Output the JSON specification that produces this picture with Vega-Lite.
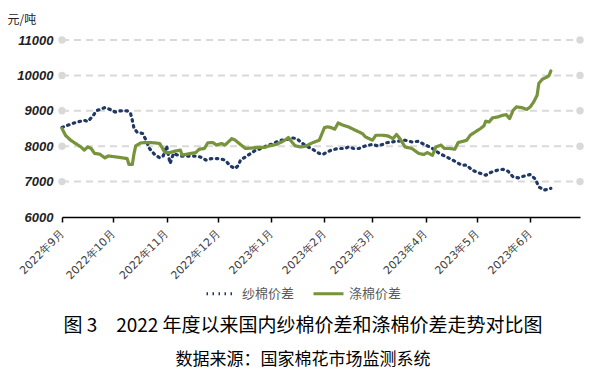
{
  "$schema": "https://vega.github.io/schema/vega-lite/v6.json",
  "width": 518,
  "height": 177,
  "autosize": {"type": "none"},
  "padding": {"left": 62, "top": 40, "right": 11, "bottom": 156},
  "background": "white",
  "config": {
    "view": {"stroke": null},
    "font": "Noto Sans CJK SC",
    "axisY": {
      "labelOverlap": false,
      "grid": false,
      "domain": false,
      "ticks": false,
      "labelFont": "Liberation Sans",
      "labelFontStyle": "italic",
      "labelFontWeight": "bold",
      "labelFontSize": 13,
      "labelColor": "#222222",
      "labelPadding": 9,
      "titleAngle": 0,
      "titleX": -55,
      "titleY": -21,
      "titleAlign": "left",
      "titleBaseline": "middle",
      "titleFont": "Noto Sans CJK SC",
      "titleFontSize": 12,
      "titleFontWeight": "normal",
      "titleColor": "#222222"
    },
    "axisX": {
      "labelAngle": -45,
      "labelAlign": "right",
      "labelBaseline": "middle",
      "labelFont": "DejaVu Sans",
      "labelFontSize": 11,
      "labelColor": "#404040",
      "labelPadding": 10,
      "labelDx": 5,
      "labelFlush": false,
      "labelOverlap": false,
      "labelBound": false,
      "domainColor": "#000000",
      "domainWidth": 1.5,
      "tickColor": "#000000",
      "tickWidth": 1.5,
      "tickSize": 5,
      "grid": false
    },
    "legend": {
      "orient": "none",
      "legendX": 143,
      "legendY": 237,
      "direction": "horizontal",
      "title": null,
      "symbolType": "stroke",
      "symbolSize": 900,
      "symbolStrokeWidth": 3,
      "labelFont": "Noto Sans CJK SC",
      "labelFontSize": 13,
      "labelColor": "#595959",
      "labelOffset": 4,
      "columnPadding": 12
    }
  },
  "datasets": {
    "series": [
      {"date": "2022-09-01", "series": "纱棉价差", "value": 8530},
      {"date": "2022-09-06", "series": "纱棉价差", "value": 8620},
      {"date": "2022-09-09", "series": "纱棉价差", "value": 8670},
      {"date": "2022-09-14", "series": "纱棉价差", "value": 8730},
      {"date": "2022-09-16", "series": "纱棉价差", "value": 8700},
      {"date": "2022-09-19", "series": "纱棉价差", "value": 8850},
      {"date": "2022-09-21", "series": "纱棉价差", "value": 9000},
      {"date": "2022-09-26", "series": "纱棉价差", "value": 9090},
      {"date": "2022-09-29", "series": "纱棉价差", "value": 9040},
      {"date": "2022-10-02", "series": "纱棉价差", "value": 8965},
      {"date": "2022-10-05", "series": "纱棉价差", "value": 9000},
      {"date": "2022-10-09", "series": "纱棉价差", "value": 9000},
      {"date": "2022-10-11", "series": "纱棉价差", "value": 8920},
      {"date": "2022-10-12", "series": "纱棉价差", "value": 8730},
      {"date": "2022-10-13", "series": "纱棉价差", "value": 8500},
      {"date": "2022-10-15", "series": "纱棉价差", "value": 8385},
      {"date": "2022-10-18", "series": "纱棉价差", "value": 8360},
      {"date": "2022-10-20", "series": "纱棉价差", "value": 8170},
      {"date": "2022-10-22", "series": "纱棉价差", "value": 7935},
      {"date": "2022-10-25", "series": "纱棉价差", "value": 7765},
      {"date": "2022-10-28", "series": "纱棉价差", "value": 7670},
      {"date": "2022-10-30", "series": "纱棉价差", "value": 7725},
      {"date": "2022-11-01", "series": "纱棉价差", "value": 8010},
      {"date": "2022-11-03", "series": "纱棉价差", "value": 7510},
      {"date": "2022-11-05", "series": "纱棉价差", "value": 7795},
      {"date": "2022-11-09", "series": "纱棉价差", "value": 7720},
      {"date": "2022-11-15", "series": "纱棉价差", "value": 7720},
      {"date": "2022-11-19", "series": "纱棉价差", "value": 7720},
      {"date": "2022-11-22", "series": "纱棉价差", "value": 7670},
      {"date": "2022-11-24", "series": "纱棉价差", "value": 7605},
      {"date": "2022-11-27", "series": "纱棉价差", "value": 7650},
      {"date": "2022-12-01", "series": "纱棉价差", "value": 7650},
      {"date": "2022-12-04", "series": "纱棉价差", "value": 7625},
      {"date": "2022-12-06", "series": "纱棉价差", "value": 7560},
      {"date": "2022-12-08", "series": "纱棉价差", "value": 7445},
      {"date": "2022-12-11", "series": "纱棉价差", "value": 7370},
      {"date": "2022-12-13", "series": "纱棉价差", "value": 7465},
      {"date": "2022-12-14", "series": "纱棉价差", "value": 7605},
      {"date": "2022-12-17", "series": "纱棉价差", "value": 7700},
      {"date": "2022-12-20", "series": "纱棉价差", "value": 7795},
      {"date": "2022-12-23", "series": "纱棉价差", "value": 7890},
      {"date": "2022-12-27", "series": "纱棉价差", "value": 7950},
      {"date": "2022-12-30", "series": "纱棉价差", "value": 8030},
      {"date": "2023-01-01", "series": "纱棉价差", "value": 8050},
      {"date": "2023-01-04", "series": "纱棉价差", "value": 8120},
      {"date": "2023-01-07", "series": "纱棉价差", "value": 8170},
      {"date": "2023-01-10", "series": "纱棉价差", "value": 8190},
      {"date": "2023-01-13", "series": "纱棉价差", "value": 8235},
      {"date": "2023-01-16", "series": "纱棉价差", "value": 8215},
      {"date": "2023-01-18", "series": "纱棉价差", "value": 8120},
      {"date": "2023-01-21", "series": "纱棉价差", "value": 8020},
      {"date": "2023-01-25", "series": "纱棉价差", "value": 7915},
      {"date": "2023-01-29", "series": "纱棉价差", "value": 7795},
      {"date": "2023-01-31", "series": "纱棉价差", "value": 7765},
      {"date": "2023-02-02", "series": "纱棉价差", "value": 7820},
      {"date": "2023-02-05", "series": "纱棉价差", "value": 7890},
      {"date": "2023-02-09", "series": "纱棉价差", "value": 7935},
      {"date": "2023-02-13", "series": "纱棉价差", "value": 7935},
      {"date": "2023-02-15", "series": "纱棉价差", "value": 7980},
      {"date": "2023-02-18", "series": "纱棉价差", "value": 7935},
      {"date": "2023-02-21", "series": "纱棉价差", "value": 7935},
      {"date": "2023-02-25", "series": "纱棉价差", "value": 8010},
      {"date": "2023-03-01", "series": "纱棉价差", "value": 8050},
      {"date": "2023-03-04", "series": "纱棉价差", "value": 8010},
      {"date": "2023-03-07", "series": "纱棉价差", "value": 8050},
      {"date": "2023-03-09", "series": "纱棉价差", "value": 8095},
      {"date": "2023-03-12", "series": "纱棉价差", "value": 8120},
      {"date": "2023-03-16", "series": "纱棉价差", "value": 8140},
      {"date": "2023-03-20", "series": "纱棉价差", "value": 8170},
      {"date": "2023-03-24", "series": "纱棉价差", "value": 8120},
      {"date": "2023-03-28", "series": "纱棉价差", "value": 8140},
      {"date": "2023-03-31", "series": "纱棉价差", "value": 8050},
      {"date": "2023-04-02", "series": "纱棉价差", "value": 8010},
      {"date": "2023-04-05", "series": "纱棉价差", "value": 7935},
      {"date": "2023-04-09", "series": "纱棉价差", "value": 7795},
      {"date": "2023-04-13", "series": "纱棉价差", "value": 7700},
      {"date": "2023-04-18", "series": "纱棉价差", "value": 7575},
      {"date": "2023-04-22", "series": "纱棉价差", "value": 7465},
      {"date": "2023-04-25", "series": "纱棉价差", "value": 7465},
      {"date": "2023-04-28", "series": "纱棉价差", "value": 7325},
      {"date": "2023-05-03", "series": "纱棉价差", "value": 7230},
      {"date": "2023-05-06", "series": "纱棉价差", "value": 7180},
      {"date": "2023-05-09", "series": "纱棉价差", "value": 7260},
      {"date": "2023-05-13", "series": "纱棉价差", "value": 7325},
      {"date": "2023-05-16", "series": "纱棉价差", "value": 7345},
      {"date": "2023-05-19", "series": "纱棉价差", "value": 7295},
      {"date": "2023-05-22", "series": "纱棉价差", "value": 7135},
      {"date": "2023-05-25", "series": "纱棉价差", "value": 7105},
      {"date": "2023-05-29", "series": "纱棉价差", "value": 7165},
      {"date": "2023-06-01", "series": "纱棉价差", "value": 7200},
      {"date": "2023-06-04", "series": "纱棉价差", "value": 7070},
      {"date": "2023-06-06", "series": "纱棉价差", "value": 6850},
      {"date": "2023-06-09", "series": "纱棉价差", "value": 6760},
      {"date": "2023-06-12", "series": "纱棉价差", "value": 6790},
      {"date": "2023-06-13", "series": "纱棉价差", "value": 6810},

      {"date": "2022-09-01", "series": "涤棉价差", "value": 8500},
      {"date": "2022-09-03", "series": "涤棉价差", "value": 8310},
      {"date": "2022-09-06", "series": "涤棉价差", "value": 8170},
      {"date": "2022-09-09", "series": "涤棉价差", "value": 8075},
      {"date": "2022-09-12", "series": "涤棉价差", "value": 7980},
      {"date": "2022-09-14", "series": "涤棉价差", "value": 7890},
      {"date": "2022-09-16", "series": "涤棉价差", "value": 7980},
      {"date": "2022-09-18", "series": "涤棉价差", "value": 7935},
      {"date": "2022-09-20", "series": "涤棉价差", "value": 7795},
      {"date": "2022-09-23", "series": "涤棉价差", "value": 7775},
      {"date": "2022-09-26", "series": "涤棉价差", "value": 7670},
      {"date": "2022-09-28", "series": "涤棉价差", "value": 7725},
      {"date": "2022-10-02", "series": "涤棉价差", "value": 7700},
      {"date": "2022-10-05", "series": "涤棉价差", "value": 7680},
      {"date": "2022-10-09", "series": "涤棉价差", "value": 7650},
      {"date": "2022-10-10", "series": "涤棉价差", "value": 7485},
      {"date": "2022-10-12", "series": "涤棉价差", "value": 7485},
      {"date": "2022-10-13", "series": "涤棉价差", "value": 7795},
      {"date": "2022-10-14", "series": "涤棉价差", "value": 8010},
      {"date": "2022-10-17", "series": "涤棉价差", "value": 8095},
      {"date": "2022-10-21", "series": "涤棉价差", "value": 8105},
      {"date": "2022-10-25", "series": "涤棉价差", "value": 8095},
      {"date": "2022-10-28", "series": "涤棉价差", "value": 8075},
      {"date": "2022-10-31", "series": "涤棉价差", "value": 7820},
      {"date": "2022-11-03", "series": "涤棉价差", "value": 7820},
      {"date": "2022-11-06", "series": "涤棉价差", "value": 7860},
      {"date": "2022-11-09", "series": "涤棉价差", "value": 7890},
      {"date": "2022-11-10", "series": "涤棉价差", "value": 7750},
      {"date": "2022-11-12", "series": "涤棉价差", "value": 7765},
      {"date": "2022-11-15", "series": "涤棉价差", "value": 7795},
      {"date": "2022-11-18", "series": "涤棉价差", "value": 7820},
      {"date": "2022-11-20", "series": "涤棉价差", "value": 7915},
      {"date": "2022-11-23", "series": "涤棉价差", "value": 7935},
      {"date": "2022-11-25", "series": "涤棉价差", "value": 8095},
      {"date": "2022-11-28", "series": "涤棉价差", "value": 8105},
      {"date": "2022-11-30", "series": "涤棉价差", "value": 8030},
      {"date": "2022-12-03", "series": "涤棉价差", "value": 8075},
      {"date": "2022-12-05", "series": "涤棉价差", "value": 8030},
      {"date": "2022-12-09", "series": "涤棉价差", "value": 8215},
      {"date": "2022-12-11", "series": "涤棉价差", "value": 8170},
      {"date": "2022-12-14", "series": "涤棉价差", "value": 8050},
      {"date": "2022-12-17", "series": "涤棉价差", "value": 7935},
      {"date": "2022-12-21", "series": "涤棉价差", "value": 7950},
      {"date": "2022-12-24", "series": "涤棉价差", "value": 7965},
      {"date": "2022-12-28", "series": "涤棉价差", "value": 7965},
      {"date": "2022-12-31", "series": "涤棉价差", "value": 8010},
      {"date": "2023-01-04", "series": "涤棉价差", "value": 8050},
      {"date": "2023-01-07", "series": "涤棉价差", "value": 8120},
      {"date": "2023-01-09", "series": "涤棉价差", "value": 8170},
      {"date": "2023-01-11", "series": "涤棉价差", "value": 8245},
      {"date": "2023-01-13", "series": "涤棉价差", "value": 8120},
      {"date": "2023-01-15", "series": "涤棉价差", "value": 8010},
      {"date": "2023-01-18", "series": "涤棉价差", "value": 7980},
      {"date": "2023-01-21", "series": "涤棉价差", "value": 8000},
      {"date": "2023-01-25", "series": "涤棉价差", "value": 8095},
      {"date": "2023-01-29", "series": "涤棉价差", "value": 8170},
      {"date": "2023-01-31", "series": "涤棉价差", "value": 8405},
      {"date": "2023-02-01", "series": "涤棉价差", "value": 8525},
      {"date": "2023-02-03", "series": "涤棉价差", "value": 8545},
      {"date": "2023-02-05", "series": "涤棉价差", "value": 8525},
      {"date": "2023-02-07", "series": "涤棉价差", "value": 8480},
      {"date": "2023-02-09", "series": "涤棉价差", "value": 8655},
      {"date": "2023-02-12", "series": "涤棉价差", "value": 8590},
      {"date": "2023-02-15", "series": "涤棉价差", "value": 8545},
      {"date": "2023-02-19", "series": "涤棉价差", "value": 8450},
      {"date": "2023-02-23", "series": "涤棉价差", "value": 8360},
      {"date": "2023-02-25", "series": "涤棉价差", "value": 8260},
      {"date": "2023-03-01", "series": "涤棉价差", "value": 8170},
      {"date": "2023-03-03", "series": "涤棉价差", "value": 8310},
      {"date": "2023-03-07", "series": "涤棉价差", "value": 8310},
      {"date": "2023-03-10", "series": "涤棉价差", "value": 8290},
      {"date": "2023-03-13", "series": "涤棉价差", "value": 8215},
      {"date": "2023-03-15", "series": "涤棉价差", "value": 8330},
      {"date": "2023-03-17", "series": "涤棉价差", "value": 8215},
      {"date": "2023-03-20", "series": "涤棉价差", "value": 7980},
      {"date": "2023-03-24", "series": "涤棉价差", "value": 7935},
      {"date": "2023-03-28", "series": "涤棉价差", "value": 7795},
      {"date": "2023-03-31", "series": "涤棉价差", "value": 7765},
      {"date": "2023-04-02", "series": "涤棉价差", "value": 7820},
      {"date": "2023-04-05", "series": "涤棉价差", "value": 7745},
      {"date": "2023-04-07", "series": "涤棉价差", "value": 7980},
      {"date": "2023-04-10", "series": "涤棉价差", "value": 8030},
      {"date": "2023-04-12", "series": "涤棉价差", "value": 7935},
      {"date": "2023-04-15", "series": "涤棉价差", "value": 7935},
      {"date": "2023-04-18", "series": "涤棉价差", "value": 7915},
      {"date": "2023-04-20", "series": "涤棉价差", "value": 8105},
      {"date": "2023-04-23", "series": "涤棉价差", "value": 8140},
      {"date": "2023-04-25", "series": "涤棉价差", "value": 8170},
      {"date": "2023-04-27", "series": "涤棉价差", "value": 8310},
      {"date": "2023-04-30", "series": "涤棉价差", "value": 8405},
      {"date": "2023-05-03", "series": "涤棉价差", "value": 8500},
      {"date": "2023-05-05", "series": "涤棉价差", "value": 8575},
      {"date": "2023-05-06", "series": "涤棉价差", "value": 8705},
      {"date": "2023-05-08", "series": "涤棉价差", "value": 8685},
      {"date": "2023-05-10", "series": "涤棉价差", "value": 8800},
      {"date": "2023-05-13", "series": "涤棉价差", "value": 8825},
      {"date": "2023-05-16", "series": "涤棉价差", "value": 8875},
      {"date": "2023-05-18", "series": "涤棉价差", "value": 8890},
      {"date": "2023-05-20", "series": "涤棉价差", "value": 8780},
      {"date": "2023-05-22", "series": "涤棉价差", "value": 9015},
      {"date": "2023-05-24", "series": "涤棉价差", "value": 9110},
      {"date": "2023-05-27", "series": "涤棉价差", "value": 9090},
      {"date": "2023-05-30", "series": "涤棉价差", "value": 9040},
      {"date": "2023-06-01", "series": "涤棉价差", "value": 9110},
      {"date": "2023-06-03", "series": "涤棉价差", "value": 9250},
      {"date": "2023-06-05", "series": "涤棉价差", "value": 9440},
      {"date": "2023-06-06", "series": "涤棉价差", "value": 9775},
      {"date": "2023-06-08", "series": "涤棉价差", "value": 9890},
      {"date": "2023-06-11", "series": "涤棉价差", "value": 9960},
      {"date": "2023-06-12", "series": "涤棉价差", "value": 10000},
      {"date": "2023-06-13", "series": "涤棉价差", "value": 10125}
    ],
    "gridlevels": [
      {"level": 7000}, {"level": 8000}, {"level": 9000}, {"level": 10000}, {"level": 11000}
    ]
  },
  "title": {
    "text": "图 3\u30002022 年度以来国内纱棉价差和涤棉价差走势对比图",
    "subtitle": "数据来源：国家棉花市场监测系统",
    "orient": "bottom",
    "anchor": "middle",
    "dx": -18,
    "offset": 16,
    "font": "Noto Sans CJK SC",
    "fontSize": 19,
    "fontWeight": "normal",
    "color": "#000000",
    "subtitleFont": "Noto Sans CJK SC",
    "subtitleFontSize": 17,
    "subtitleColor": "#000000",
    "subtitlePadding": 16
  },
  "layer": [
    {
      "data": {"name": "gridlevels"},
      "mark": {"type": "rule", "color": "#D9D9D9", "strokeWidth": 2, "strokeDash": [7, 5]},
      "encoding": {
        "y": {"field": "level", "type": "quantitative", "title": "元/吨", "axis": {"values": [6000, 7000, 8000, 9000, 10000, 11000], "format": "d", "labelOverlap": false, "title": "元/吨"}},
        "x": {"datum": {"year": 2022, "month": 9, "date": 1}, "type": "temporal", "axis": {"title": null, "format": "%Y年%-m月", "tickCount": {"interval": "month", "step": 1}}},
        "x2": {"datum": {"year": 2023, "month": 6, "date": 30}}
      }
    },
    {
      "data": {"name": "series"},
      "mark": {"type": "line", "strokeWidth": 3.2, "strokeCap": "round", "strokeJoin": "round"},
      "encoding": {
        "x": {
          "field": "date",
          "type": "temporal",
          "scale": {"domain": [{"year": 2022, "month": 9, "date": 1}, {"year": 2023, "month": 6, "date": 30}]},
          "axis": {"title": null, "format": "%Y年%-m月", "tickCount": {"interval": "month", "step": 1}}
        },
        "y": {
          "field": "value",
          "type": "quantitative",
          "title": "元/吨",
          "scale": {"domain": [6000, 11000], "nice": false, "zero": false},
          "axis": {"values": [6000, 7000, 8000, 9000, 10000, 11000], "format": "d", "labelOverlap": false, "title": "元/吨"}
        },
        "color": {
          "field": "series",
          "type": "nominal",
          "scale": {"domain": ["纱棉价差", "涤棉价差"], "range": ["#1F3864", "#77933C"]}
        },
        "strokeDash": {
          "field": "series",
          "type": "nominal",
          "scale": {"domain": ["纱棉价差", "涤棉价差"], "range": [[1.5, 4.5], [1, 0]]}
        }
      }
    },
    {
      "data": {"name": "gridlevels"},
      "mark": {"type": "point", "filled": true, "color": "#D9D9D9", "size": 55, "opacity": 1},
      "encoding": {
        "x": {"datum": {"year": 2022, "month": 9, "date": 1}, "type": "temporal", "axis": {"title": null, "format": "%Y年%-m月", "tickCount": {"interval": "month", "step": 1}}},
        "y": {"field": "level", "type": "quantitative", "title": "元/吨", "axis": {"values": [6000, 7000, 8000, 9000, 10000, 11000], "format": "d", "labelOverlap": false, "title": "元/吨"}}
      }
    },
    {
      "data": {"name": "gridlevels"},
      "mark": {"type": "point", "filled": true, "color": "#D9D9D9", "size": 55, "opacity": 1},
      "encoding": {
        "x": {"datum": {"year": 2023, "month": 6, "date": 30}, "type": "temporal", "axis": {"title": null, "format": "%Y年%-m月", "tickCount": {"interval": "month", "step": 1}}},
        "y": {"field": "level", "type": "quantitative", "title": "元/吨", "axis": {"values": [6000, 7000, 8000, 9000, 10000, 11000], "format": "d", "labelOverlap": false, "title": "元/吨"}}
      }
    },
    {
      "mark": {"type": "point", "filled": true, "color": "#000000", "size": 45, "opacity": 1},
      "encoding": {
        "x": {"datum": {"year": 2022, "month": 9, "date": 1}, "type": "temporal", "axis": {"title": null, "format": "%Y年%-m月", "tickCount": {"interval": "month", "step": 1}}},
        "y": {"datum": 6000, "type": "quantitative", "title": "元/吨", "axis": {"values": [6000, 7000, 8000, 9000, 10000, 11000], "format": "d", "labelOverlap": false, "title": "元/吨"}}
      }
    },
    {
      "mark": {"type": "point", "filled": false, "color": "#000000", "strokeWidth": 1.5, "size": 90, "opacity": 1, "shape": "M-1,-1L0,0L-1,1"},
      "encoding": {
        "x": {"datum": {"year": 2023, "month": 6, "date": 30}, "type": "temporal", "axis": {"title": null, "format": "%Y年%-m月", "tickCount": {"interval": "month", "step": 1}}},
        "y": {"datum": 6000, "type": "quantitative", "title": "元/吨", "axis": {"values": [6000, 7000, 8000, 9000, 10000, 11000], "format": "d", "labelOverlap": false, "title": "元/吨"}}
      }
    }
  ]
}
